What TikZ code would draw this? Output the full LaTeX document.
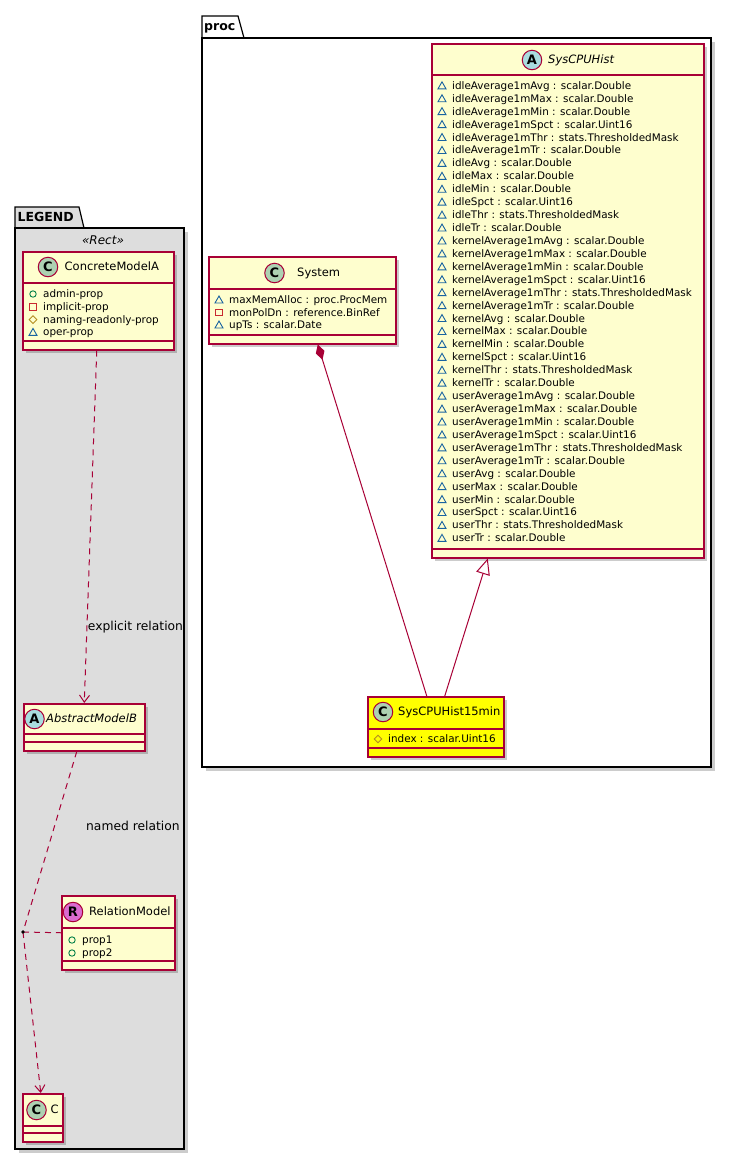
\documentclass[tikz,border=0pt]{standalone}
\usepackage{fontspec}
\setmainfont{DejaVu Sans}
\usetikzlibrary{arrows.meta,calc}
\definecolor{umlborder}{HTML}{A80036}
\definecolor{umlfill}{HTML}{FEFECE}
\definecolor{legendfill}{HTML}{DDDDDD}
\definecolor{spotC}{HTML}{ADD1B2}
\definecolor{spotA}{HTML}{A9DCDF}
\definecolor{spotR}{HTML}{DA6BD0}
\definecolor{pubcol}{HTML}{038048}
\definecolor{privcol}{HTML}{C82930}
\definecolor{protcol}{HTML}{B38D22}
\definecolor{pkgcol}{HTML}{1963A0}
\definecolor{hlyellow}{HTML}{FFFF00}
\tikzset{
  classbox/.style={draw=umlborder, line width=1.5pt, inner sep=0pt, anchor=north west},
  shadowbox/.style={fill=black, opacity=0.2},
  spot/.style={circle, draw=umlborder, line width=1pt, minimum size=19.5pt, inner sep=0pt, font=\bfseries\fontsize{13}{13}\selectfont},
  attrtxt/.style={inner sep=0pt, anchor=west, text height=8.5pt, text depth=1.5pt, font=\fontsize{10.4}{12}\selectfont},
  titletxt/.style={inner sep=0pt, anchor=west, text height=9pt, text depth=2pt, font=\fontsize{11.5}{13}\selectfont},
  lbltxt/.style={inner sep=0pt, anchor=west, text height=9pt, text depth=2pt, font=\fontsize{12.3}{14}\selectfont},
  pkgtxt/.style={inner sep=0pt, anchor=west, text height=9pt, text depth=2pt, font=\bfseries\fontsize{12.5}{14}\selectfont},
  pkgline/.style={draw=black, line width=1.2pt},
  relline/.style={draw=umlborder, line width=1pt},
  reldash/.style={relline, dash pattern=on 6pt off 5pt},
  vpub/.pic={\draw[pubcol, line width=0.9pt] (0,0) circle (3.2pt);},
  vpriv/.pic={\draw[privcol, line width=0.9pt] (-3.2,-3.2) rectangle (3.2,3.2);},
  vprot/.pic={\draw[protcol, line width=0.9pt] (-3.8,0) -- (0,-3.8) -- (3.8,0) -- (0,3.8) -- cycle;},
  vpkg/.pic={\draw[pkgcol, line width=0.9pt] (-4,3) -- (4,3) -- (0,-4) -- cycle;},
}
% #1 name, #2 x1, #3 y1, #4 x2, #5 y2, #6 sep1, #7 sep2, #8 fill
\newcommand\umlclass[8]{%
  \fill[shadowbox] (#2+4,#3+4) rectangle (#4+4,#5+4);
  \node[classbox, fill=#8, minimum width=#4-#2, minimum height=#5-#3] (#1) at (#2,#3) {};
  \draw[umlborder, line width=1.5pt] (#2,#6) -- (#4,#6) (#2,#7) -- (#4,#7);
}
% #1 node name, #2 pic, #3 box left x, #4 y, #5 text
\newcommand\umlattr[5]{%
  \pic at (#3+11,#4) {#2};
  \node[attrtxt] (#1) at (#3+21,#4) {#5};
}
\begin{document}
\begin{tikzpicture}[x=1pt,y=-1pt]
\useasboundingbox (0,0) rectangle (732,1160);
\fill[white] (0,0) rectangle (732,1160);

% ---------- LEGEND package ----------
\fill[shadowbox] (19,232) rectangle (188,1153);
\fill[legendfill, pkgline] (15,228) -- (15,207) -- (79,207) -- (84,228) -- cycle;
\fill[legendfill, pkgline] (15,228) rectangle (184,1149);
\node[pkgtxt] (legendname) at (17.5,218) {LEGEND};
\node[inner sep=0pt, font=\itshape\fontsize{12}{14}\selectfont] (rectst) at (103,240) {«Rect»};

% ---------- proc package ----------
\fill[shadowbox] (206,42) rectangle (715,771);
\fill[white, pkgline] (202,38) -- (202,16) -- (238,16) -- (244,38) -- cycle;
\fill[white, pkgline] (202,38) rectangle (711,767);
\node[pkgtxt] (procname) at (204,27) {proc};

% ---------- ConcreteModelA ----------
\umlclass{cma}{22}{251}{173}{349}{283}{341}{umlfill}
\node[spot, fill=spotC] (cma-spot) at (48,267) {C};
\node[titletxt] (cma-name) at (64.5,267) {ConcreteModelA};
\umlattr{cma-a1}{vpub}{22}{294}{admin-prop}
\umlattr{cma-a2}{vpriv}{22}{306.8}{implicit-prop}
\umlattr{cma-a3}{vprot}{22}{319.6}{naming-readonly-prop}
\umlattr{cma-a4}{vpkg}{22}{332.4}{oper-prop}

% ---------- AbstractModelB ----------
\umlclass{amb}{23}{703}{144}{750}{734}{742}{umlfill}
\node[spot, fill=spotA] (amb-spot) at (34.5,719) {A};
\node[titletxt, font=\itshape\fontsize{11.5}{13}\selectfont] (amb-name) at (46,719) {AbstractModelB};

% ---------- RelationModel ----------
\umlclass{rel}{61}{895}{174}{969}{928}{961}{umlfill}
\node[spot, fill=spotR] (rel-spot) at (73,912) {R};
\node[titletxt] (rel-name) at (89,912) {RelationModel};
\umlattr{rel-a1}{vpub}{61}{940}{prop1}
\umlattr{rel-a2}{vpub}{61}{953}{prop2}

% ---------- C ----------
\umlclass{cc}{22}{1093}{62}{1141}{1126}{1133}{umlfill}
\node[spot, fill=spotC] (cc-spot) at (36.5,1110) {C};
\node[titletxt] (cc-name) at (50.5,1110) {C};

% ---------- System ----------
\umlclass{sys}{208}{256}{395}{343}{289}{335}{umlfill}
\node[spot, fill=spotC] (sys-spot) at (274.5,273) {C};
\node[titletxt] (sys-name) at (297,273) {System};
\umlattr{sys-a1}{vpkg}{208}{300}{maxMemAlloc : proc.ProcMem}
\umlattr{sys-a2}{vpriv}{208}{312.5}{monPolDn : reference.BinRef}
\umlattr{sys-a3}{vpkg}{208}{325}{upTs : scalar.Date}

% ---------- SysCPUHist ----------
\umlclass{hist}{431}{43}{703}{557}{75}{549}{umlfill}
\node[spot, fill=spotA] (hist-spot) at (532,60) {A};
\node[titletxt, font=\itshape\fontsize{11.5}{13}\selectfont] (hist-name) at (548,60) {SysCPUHist};
\foreach \p [count=\a from 0] in {idle,kernel,user}{
  \foreach \s/\ty [count=\b from 0] in {Average1mAvg/scalar.Double, Average1mMax/scalar.Double, Average1mMin/scalar.Double, Average1mSpct/scalar.Uint16, Average1mThr/stats.ThresholdedMask, Average1mTr/scalar.Double, Avg/scalar.Double, Max/scalar.Double, Min/scalar.Double, Spct/scalar.Uint16, Thr/stats.ThresholdedMask, Tr/scalar.Double}{
    \pgfmathsetmacro\yy{85.8+(\a*12+\b)*12.93}
    \umlattr{hist-\p-\b}{vpkg}{431}{\yy}{\p\s{} : \ty}
  }
}

% ---------- SysCPUHist15min ----------
\umlclass{h15}{367}{696}{503}{756}{729}{748}{hlyellow}
\node[spot, fill=spotC] (h15-spot) at (383,712) {C};
\node[titletxt] (h15-name) at (398,712) {SysCPUHist15min};
\umlattr{h15-a1}{vprot}{367}{739}{index : scalar.Uint16}

% ---------- connectors ----------
\draw[reldash, -{Straight Barb[length=7pt,width=10pt]}] ($(cma.south)+(-1.5,0)$) -- (amb.north)
  node[lbltxt, pos=0.785, anchor=west, xshift=0.5pt] (lbl1) {explicit relation};

\coordinate (reldot) at (23,932);
\draw[reldash] ($(amb.south)+(-7.5,0)$) -- (reldot);
\draw[reldash, -{Straight Barb[length=7pt,width=10pt]}] (reldot) -- ($(cc.north)+(-2,0)$);
\draw[reldash] (reldot) -- (rel.west);
\fill[black] (reldot) circle (1.8pt);
\node[lbltxt] (lbl2) at (86,827) {named relation};

\draw[relline, {Diamond[length=16pt,width=9pt,fill=umlborder]}-] ($(sys.south)+(15.5,0)$) -- ($(h15.north)+(-9,0)$);
\draw[relline, -{Triangle[open,length=16pt,width=14pt,fill=white]}] ($(h15.north)+(9,0)$) -- ($(hist.south)+(-80,0)$);
\end{tikzpicture}
\end{document}
